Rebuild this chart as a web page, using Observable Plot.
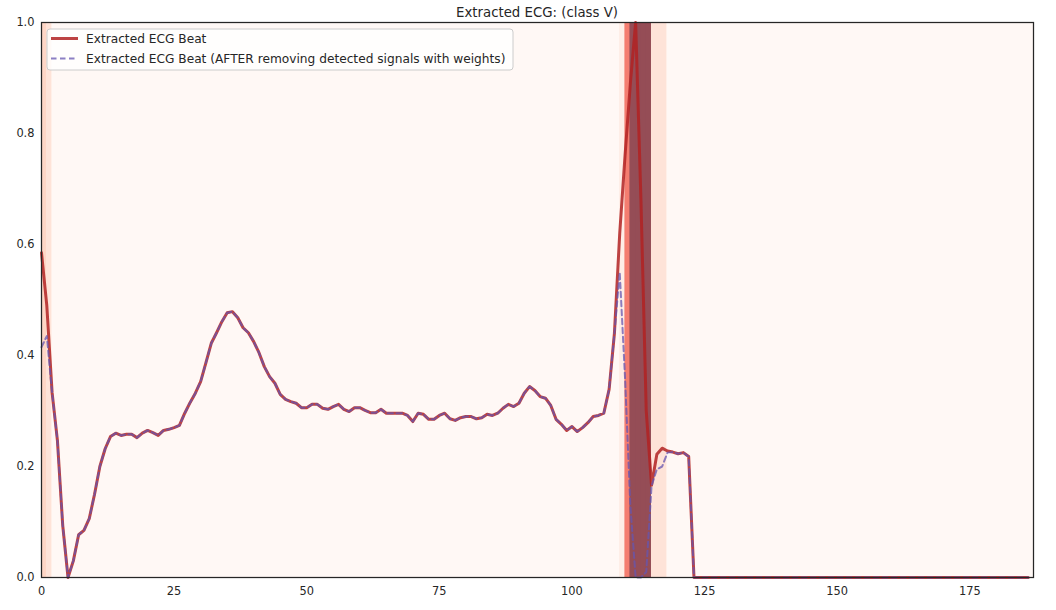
<!DOCTYPE html>
<html><head><meta charset="utf-8">
<script src="https://cdn.jsdelivr.net/npm/d3@7"></script>
<script src="https://cdn.jsdelivr.net/npm/@observablehq/plot@0.6"></script>
<style>
body{margin:0;background:#fff;font-family:"DejaVu Sans",sans-serif;}
#wrap{position:relative;width:1056px;height:610px;}
</style></head><body><div id="wrap"></div>
<script>
const title = "Extracted ECG: (class V)";
const seriesNames = ["Extracted ECG Beat", "Extracted ECG Beat (AFTER removing detected signals with weights)"];
const xTicks = [0, 25, 50, 75, 100, 125, 150, 175];
const yTicks = [0, 0.2, 0.4, 0.6, 0.8, 1.0];

// Extracted ECG beat (index 0..186)
const beat = [
0.585,0.49,0.333,0.247,0.094,0.0,0.03,0.077,0.085,0.106,
0.15,0.2,0.232,0.254,0.26,0.256,0.258,0.258,0.252,0.26,
0.265,0.261,0.256,0.265,0.267,0.27,0.274,0.296,0.315,0.332,
0.353,0.387,0.422,0.441,0.461,0.477,0.479,0.468,0.45,0.441,
0.425,0.405,0.38,0.362,0.35,0.33,0.321,0.317,0.314,0.306,
0.306,0.312,0.312,0.305,0.303,0.308,0.312,0.303,0.299,0.306,
0.306,0.301,0.297,0.297,0.303,0.296,0.296,0.296,0.296,0.292,
0.281,0.296,0.294,0.285,0.285,0.292,0.296,0.286,0.283,0.288,
0.29,0.29,0.286,0.288,0.294,0.292,0.296,0.305,0.312,0.308,
0.314,0.332,0.344,0.337,0.326,0.323,0.31,0.285,0.276,0.265,
0.272,0.263,0.27,0.279,0.29,0.292,0.296,0.339,0.44,0.62,
0.76,0.89,1.0,0.68,0.30,0.166,0.222,0.233,0.228,0.226,
0.223,0.225,0.218,0,0,0,0,0,0,0,
0,0,0,0,0,0,0,0,0,0,
0,0,0,0,0,0,0,0,0,0,
0,0,0,0,0,0,0,0,0,0,
0,0,0,0,0,0,0,0,0,0,
0,0,0,0,0,0,0,0,0,0,
0,0,0,0,0,0,0
];
// Beat after removing detected signals with weights
const beatAfter = [
0.415,0.435,0.333,0.247,0.094,0.0,0.03,0.077,0.085,0.106,
0.15,0.2,0.232,0.254,0.26,0.256,0.258,0.258,0.252,0.26,
0.265,0.261,0.256,0.265,0.267,0.27,0.274,0.296,0.315,0.332,
0.353,0.387,0.422,0.441,0.461,0.477,0.479,0.468,0.45,0.441,
0.425,0.405,0.38,0.362,0.35,0.33,0.321,0.317,0.314,0.306,
0.306,0.312,0.312,0.305,0.303,0.308,0.312,0.303,0.299,0.306,
0.306,0.301,0.297,0.297,0.303,0.296,0.296,0.296,0.296,0.292,
0.281,0.296,0.294,0.285,0.285,0.292,0.296,0.286,0.283,0.288,
0.29,0.29,0.286,0.288,0.294,0.292,0.296,0.305,0.312,0.308,
0.314,0.332,0.344,0.337,0.326,0.323,0.31,0.285,0.276,0.265,
0.272,0.263,0.27,0.279,0.29,0.292,0.296,0.339,0.44,0.55,
0.36,0.13,0.0,0.0,0.01,0.165,0.195,0.2,0.225,0.226,
0.223,0.225,0.218,0,0,0,0,0,0,0,
0,0,0,0,0,0,0,0,0,0,
0,0,0,0,0,0,0,0,0,0,
0,0,0,0,0,0,0,0,0,0,
0,0,0,0,0,0,0,0,0,0,
0,0,0,0,0,0,0,0,0,0,
0,0,0,0,0,0,0
];
// Detection weights per sample (background shading)
const weights = [
0.22,0.15,0,0,0,0,0,0,0,0,
0,0,0,0,0,0,0,0,0,0,
0,0,0,0,0,0,0,0,0,0,
0,0,0,0,0,0,0,0,0,0,
0,0,0,0,0,0,0,0,0,0,
0,0,0,0,0,0,0,0,0,0,
0,0,0,0,0,0,0,0,0,0,
0,0,0,0,0,0,0,0,0,0,
0,0,0,0,0,0,0,0,0,0,
0,0,0,0,0,0,0,0,0,0,
0,0,0,0,0,0,0,0,0,0.08,
0.6,1.0,1.0,1.0,1.0,0.15,0.15,0.15,0,0,
0,0,0,0,0,0,0,0,0,0,
0,0,0,0,0,0,0,0,0,0,
0,0,0,0,0,0,0,0,0,0,
0,0,0,0,0,0,0,0,0,0,
0,0,0,0,0,0,0,0,0,0,
0,0,0,0,0,0,0,0,0,0,
0,0,0,0,0,0,0
];

const redLine = "#b22222", blueLine = "#6655b0";
const cells = weights.map((w, i) => ({x1: i, x2: i + 1, w}));
const pts = beat.map((v, i) => ({x: i, y: v, y2: beatAfter[i]}));

const chart = Plot.plot({
  width: 1056, height: 610,
  marginLeft: 41, marginRight: 23, marginTop: 22, marginBottom: 33,
  style: {fontFamily: "DejaVu Sans, sans-serif", fontSize: "11.4px", color: "#262626", background: "#fff"},
  x: {domain: [0, 187], ticks: xTicks, tickSize: 0, tickPadding: 9, label: null},
  y: {domain: [0, 1], ticks: yTicks, tickFormat: d3.format(".1f"), tickSize: 0, tickPadding: 7, label: null},
  color: {type: "linear", domain: [0, 1],
          interpolate: t => d3.interpolateRgb("#ffffff", d3.interpolateReds(t))(0.7)},
  marks: [
    Plot.rect(cells, {x1: "x1", x2: "x2", y1: 0, y2: 1, fill: "w", stroke: "w", strokeWidth: 0.6, shapeRendering: "crispEdges"}),
    Plot.line(pts, {x: "x", y: "y", stroke: redLine, strokeWidth: 3, strokeOpacity: 0.85}),
    Plot.line(pts, {x: "x", y: "y2", stroke: blueLine, strokeWidth: 2, strokeOpacity: 0.75, strokeDasharray: "5.5,3.5"}),
    Plot.frame({stroke: "#262626", strokeWidth: 1.25})
  ]
});
document.getElementById("wrap").appendChild(chart);

const svg = d3.select(chart);
svg.append("text").attr("x", 537).attr("y", 16.5).attr("text-anchor", "middle")
  .attr("font-size", "13.3px").attr("fill", "#262626").text(title);

const lg = svg.append("g").attr("transform", "translate(47,29)").attr("text-anchor", "start");
lg.append("rect").attr("width", 466).attr("height", 41).attr("rx", 3)
  .attr("fill", "#fff").attr("fill-opacity", 0.8).attr("stroke", "#cccccc").attr("stroke-width", 1);
lg.append("line").attr("x1", 4).attr("x2", 31).attr("y1", 9.5).attr("y2", 9.5)
  .attr("stroke", redLine).attr("stroke-width", 3).attr("stroke-opacity", 0.85);
lg.append("line").attr("x1", 4).attr("x2", 31).attr("y1", 29.5).attr("y2", 29.5)
  .attr("stroke", blueLine).attr("stroke-width", 2).attr("stroke-opacity", 0.75).attr("stroke-dasharray", "5.5,3.5");
lg.append("text").attr("x", 39).attr("y", 13.8).attr("text-anchor", "start").attr("font-size", "12.2px").attr("fill", "#262626").text(seriesNames[0]);
lg.append("text").attr("x", 39).attr("y", 33.8).attr("text-anchor", "start").attr("font-size", "12.2px").attr("fill", "#262626").text(seriesNames[1]);
</script></body></html>
